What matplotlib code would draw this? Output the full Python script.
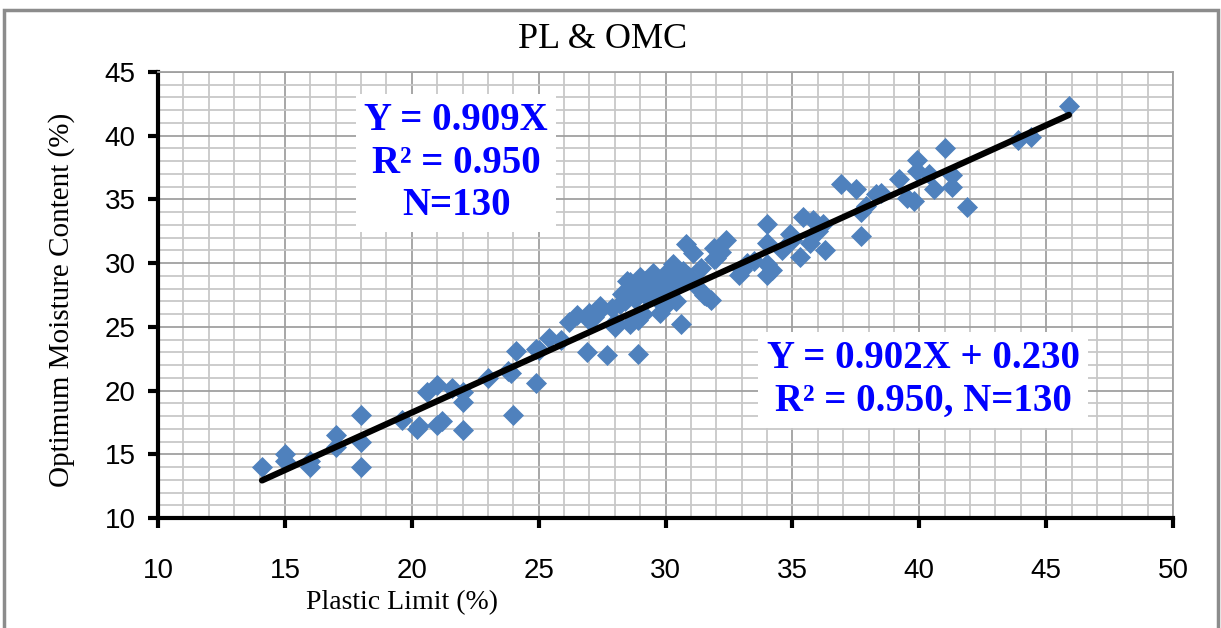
import matplotlib.pyplot as plt
import numpy as np
from matplotlib.patches import Rectangle

# Plastic limit (%) and optimum moisture content (%) for each sample
pl = [14.1, 15.0, 15.0, 16.0, 16.0, 17.0, 17.0, 18.0, 18.0, 18.0,
      19.6, 20.2, 20.3, 20.6, 21.0, 21.0, 21.2, 21.6, 22.0, 22.0,
      22.0, 23.0, 23.8, 23.9, 24.0, 24.1, 24.9, 24.9, 25.0, 25.4,
      25.9, 26.5, 26.9, 27.0, 27.0, 27.4, 27.4, 27.7, 27.9, 28.0,
      28.0, 28.3, 28.5, 28.6, 28.6, 28.7, 28.9, 28.9, 29.0, 29.0,
      29.1, 29.3, 29.5, 29.5, 29.7, 29.8, 30.0, 30.0, 30.1, 30.3,
      30.3, 30.4, 30.6, 30.8, 30.9, 31.0, 31.1, 31.2, 31.5, 31.6,
      31.8, 31.9, 31.9, 32.0, 32.4, 32.9, 33.0, 33.5, 34.0, 34.0,
      34.0, 34.0, 34.2, 34.6, 34.9, 35.3, 35.4, 35.7, 35.8, 35.8,
      36.2, 36.3, 36.9, 37.5, 37.7, 37.7, 37.9, 38.3, 38.5, 39.2,
      39.5, 39.8, 39.9, 39.9, 40.4, 40.6, 41.0, 41.3, 41.3, 41.9,
      43.9, 44.4, 45.9, 28.2, 28.8, 29.2, 29.6, 30.2, 30.5, 27.2,
      28.4, 29.9, 31.4, 26.2, 32.2, 33.2, 35.0, 36.0, 30.7, 29.4]
omc = [14.0, 15.0, 14.5, 14.5, 14.0, 16.5, 15.6, 18.1, 16.0, 14.0,
       17.7, 17.0, 17.2, 19.9, 20.4, 17.3, 17.6, 20.2, 19.9, 19.1,
       16.9, 21.0, 21.5, 21.4, 18.1, 23.1, 20.6, 23.3, 23.2, 24.1,
       24.0, 25.9, 23.0, 26.1, 25.5, 26.3, 26.6, 22.8, 26.5, 25.0,
       25.4, 27.6, 28.6, 28.5, 25.2, 28.0, 22.9, 25.5, 28.2, 28.9,
       26.0, 27.3, 29.2, 28.1, 27.1, 26.1, 29.2, 27.6, 26.9, 28.4,
       29.9, 27.0, 25.2, 31.5, 29.0, 28.8, 30.8, 28.2, 27.5, 27.4,
       27.1, 31.2, 30.3, 30.4, 31.8, 29.1, 29.5, 30.2, 33.1, 31.6,
       29.9, 29.1, 29.5, 31.0, 32.3, 30.5, 33.6, 31.6, 33.4, 32.2,
       33.1, 31.0, 36.2, 35.8, 34.0, 32.1, 34.5, 35.4, 35.5, 36.6,
       35.1, 34.9, 38.1, 37.2, 37.0, 35.8, 39.0, 36.9, 36.0, 34.4,
       39.7, 39.9, 42.3, 26.8, 27.2, 28.6, 28.5, 29.0, 28.3, 25.8,
       27.0, 28.7, 29.6, 25.4, 30.9, 30.0, 31.8, 32.5, 29.4, 27.8]

slope, intercept = 0.902, 0.230
eq_through_origin = "Y = 0.909X\nR² = 0.950\nN=130"
eq_linear = "Y = 0.902X + 0.230\nR² = 0.950, N=130"

fig = plt.figure(figsize=(12.21, 6.28), dpi=100)
ax = fig.add_axes([158 / 1221, 110 / 628, 1015 / 1221, 446 / 628])

# outer chart frame
fig.patches.append(Rectangle((4 / 1221, -0.02), 1214 / 1221, 1.02 - 10 / 628,
                             transform=fig.transFigure, fill=False,
                             edgecolor='#8c8c8c', linewidth=2.5))

ax.set_xlim(10, 50)
ax.set_ylim(10, 45)
ax.set_xticks(np.arange(10, 51, 5))
ax.set_yticks(np.arange(10, 46, 5))
ax.set_xticks(np.arange(10, 51, 1), minor=True)
ax.set_yticks(np.arange(10, 46, 1), minor=True)
ax.grid(which='minor', color='#c8c8c8', linewidth=1.3)
ax.grid(which='major', color='#a0a0a0', linewidth=1.3)
ax.set_axisbelow(True)

ax.scatter(pl, omc, marker='D', s=115, color='#4f81bd', linewidths=0, zorder=3)

xs = np.array([min(pl), max(pl)])
ax.plot(xs, slope * xs + intercept, color='black', linewidth=4.5,
        solid_capstyle='round', zorder=4)

for side in ['top', 'right']:
    ax.spines[side].set_color('#a0a0a0')
    ax.spines[side].set_linewidth(1.3)
for side in ['left', 'bottom']:
    ax.spines[side].set_color('black')
    ax.spines[side].set_linewidth(3)

ax.tick_params(which='major', direction='out', length=7, width=3, color='black')
ax.tick_params(which='minor', length=0)
ax.tick_params(axis='x', pad=22)
ax.tick_params(axis='y', pad=9)
for lab in ax.get_xticklabels() + ax.get_yticklabels():
    lab.set_fontfamily('Liberation Sans')
    lab.set_fontsize(20)

fig.text(603 / 1221, 1 - 40 / 628, 'PL & OMC', family='Liberation Serif',
         fontsize=26, ha='center', va='center')
fig.text(402 / 1221, 1 - 603 / 628, 'Plastic Limit (%)', family='Liberation Serif',
         fontsize=20, ha='center', va='center')
fig.text(62 / 1221, 1 - 300 / 628, 'Optimum Moisture Content (%)', family='Liberation Serif',
         fontsize=21, rotation=90, ha='center', va='center')

box = dict(facecolor='white', edgecolor='none', pad=6)
ax.text(21.75, 37.85, eq_through_origin, ha='center', va='center',
        family='Liberation Serif', fontweight='bold', fontsize=28,
        color='#0000ff', linespacing=1.2, bbox=box, zorder=5)
ax.text(40.15, 20.85, eq_linear, ha='center', va='center',
        family='Liberation Serif', fontweight='bold', fontsize=28,
        color='#0000ff', linespacing=1.2, bbox=box, zorder=5)

fig.savefig('out.png', dpi=100)
